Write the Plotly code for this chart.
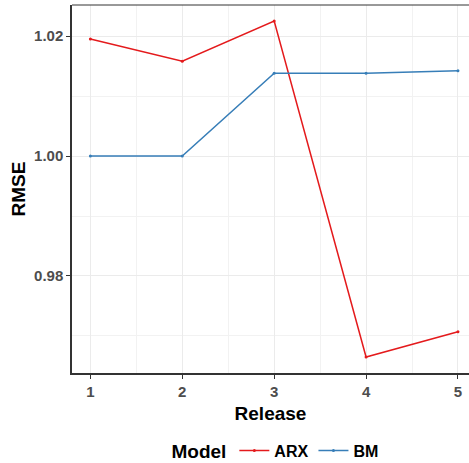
import plotly.graph_objects as go

releases = [1, 2, 3, 4, 5]
arx_rmse = [1.0195, 1.0158, 1.0225, 0.9665, 0.9707]
bm_rmse = [1.0000, 1.0000, 1.0138, 1.0138, 1.0142]
y_ticks = [0.98, 1.00, 1.02]
y_tick_labels = ["0.98", "1.00", "1.02"]

FONT = "Liberation Sans, Arial, sans-serif"

fig = go.Figure()
fig.add_trace(go.Scatter(x=releases, y=arx_rmse, mode="lines+markers", name="ARX",
                         line=dict(color="#E41A1C", width=1.5),
                         marker=dict(size=3, color="#E41A1C")))
fig.add_trace(go.Scatter(x=releases, y=bm_rmse, mode="lines+markers", name="BM",
                         line=dict(color="#377EB8", width=1.5),
                         marker=dict(size=3, color="#377EB8")))

axis_common = dict(
    showline=True, linecolor="#333333", linewidth=1.5,
    ticks="outside", ticklen=4, tickcolor="#333333", tickwidth=1,
    gridcolor="#EBEBEB", gridwidth=1, zeroline=False,
    tickfont=dict(family=FONT, size=15, color="#4D4D4D", weight="bold"),
)

fig.update_xaxes(**axis_common, range=[0.8, 5.12], tickvals=releases,
                 minor=dict(tickvals=[1.5, 2.5, 3.5, 4.5], showgrid=True,
                            gridcolor="#F2F2F2", gridwidth=1, ticks=""),
                 title=dict(text="<b>Release</b>", standoff=8,
                            font=dict(family=FONT, size=19, color="black")))
fig.update_yaxes(**axis_common, range=[0.96383, 1.02517], tickvals=y_ticks,
                 ticktext=y_tick_labels,
                 minor=dict(tickvals=[0.97, 0.99, 1.01], showgrid=True,
                            gridcolor="#F2F2F2", gridwidth=1, ticks=""),
                 title=dict(text="<b>RMSE</b>", standoff=3,
                            font=dict(family=FONT, size=19, color="black")))

fig.add_shape(type="line", xref="paper", yref="paper", x0=0, x1=1, y0=1, y1=1,
              line=dict(color="#333333", width=1))

fig.update_layout(
    width=469, height=463,
    margin=dict(l=72, r=0, t=5, b=90, autoexpand=False),
    plot_bgcolor="white", paper_bgcolor="white",
    font=dict(family=FONT),
    legend=dict(orientation="h", x=0.515, xanchor="center", y=-0.212, yanchor="middle",
                title=dict(text="<b>Model</b>", font=dict(family=FONT, size=19, color="black")),
                font=dict(family=FONT, size=16, color="black", weight="bold"),
                itemwidth=30),
)

fig.write_html("out.html")
